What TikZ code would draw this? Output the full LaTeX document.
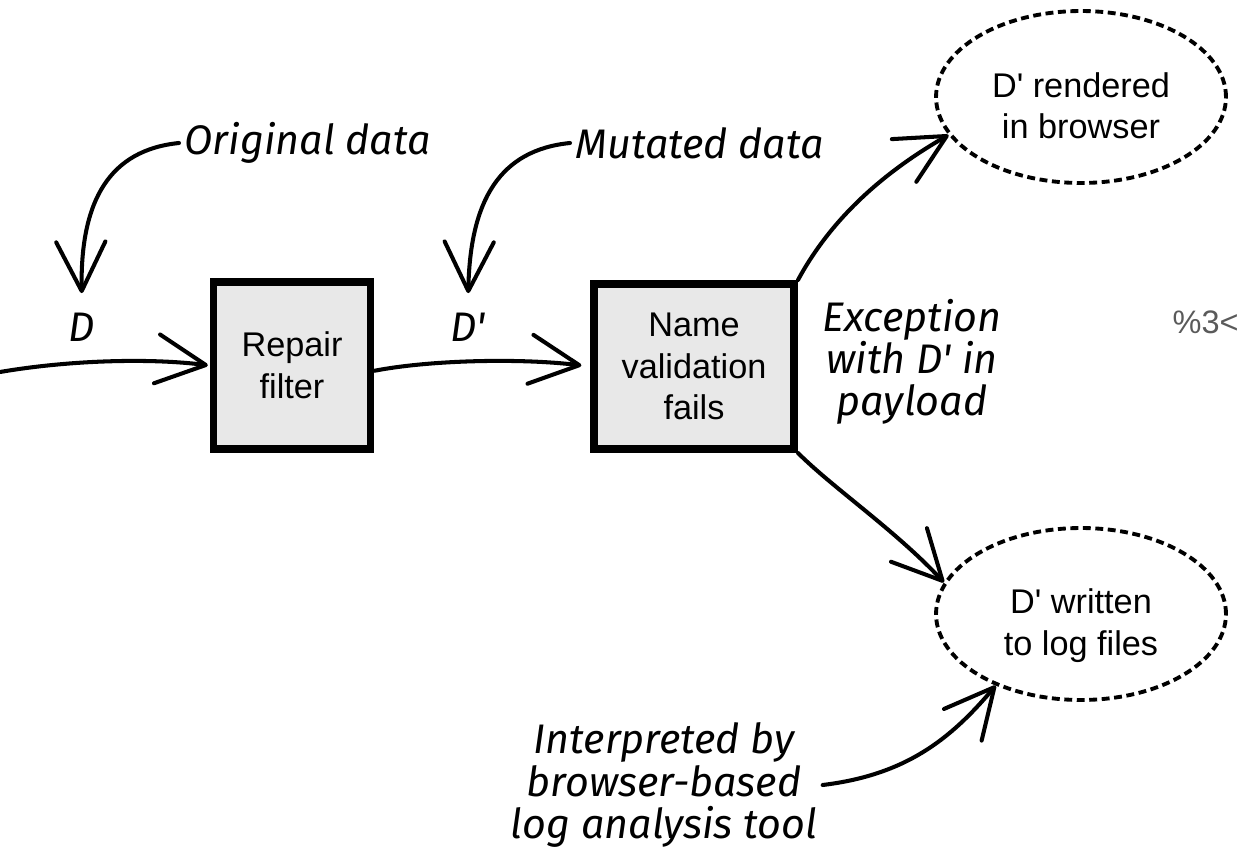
\documentclass[tikz,border=0pt]{standalone}
\usepackage{fontspec}
\setsansfont{Liberation Sans}
\newfontfamily\handfont{Fira Sans}
\usetikzlibrary{shapes.geometric,arrows.meta}
\definecolor{boxgray}{HTML}{E8E8E8}
\definecolor{taggray}{HTML}{5A5A5A}
\begin{document}
\begin{tikzpicture}[x=0.02cm,y=-0.02cm,
  labelfont/.style={font=\sffamily\fontsize{19.5}{23.8}\selectfont},
  box/.style={labelfont, draw, line width=4.5pt, fill=boxgray, align=center, inner sep=0pt},
  oval/.style={labelfont, ellipse, draw, line width=2.2pt, dash pattern=on 4.5pt off 2.6pt,
               minimum width=5.8cm, minimum height=3.44cm, inner sep=0pt, align=center},
  hand/.style={font=\handfont\itshape\fontsize{23.5}{24}\selectfont, inner sep=3pt, align=center},
  arr/.style={line width=2.3pt, line cap=round,
              -{Straight Barb[length=28pt,width=28pt,round]}}]
\useasboundingbox (0,0) rectangle (1240,858);

% processing steps
\node[box, minimum width=3.14cm, minimum height=3.34cm] (rep) at (292,365.5) {Repair\\filter};
\node[box, minimum width=4.0cm, minimum height=3.3cm] (val) at (694,366.5) {Name\\validation\\fails};

% outcomes (the strut lowers the two text lines a little inside the ellipse)
\node[oval] (e1) at (1081,97) {\rule{0pt}{24pt}D\textquotesingle{} rendered\\in browser};
\node[oval] (e2) at (1081,614) {\rule{0pt}{27pt}D\textquotesingle{} written\\to log files};

% annotations
\node[hand, anchor=west] (orig) at (179,143) {Original data};
\node[hand, anchor=west] (mut) at (570,143) {Mutated data};
\node[hand] (dl) at (82,327) {D};
\node[hand] (dpl) at (468,327) {D\textquotesingle};
\node[hand] (exc) at (912,362) {Exception\\with D\textquotesingle{} in\\payload};
\node[hand] (interp) at (664,785) {Interpreted by\\browser-based\\log analysis tool};
\node[font=\sffamily\fontsize{18.5}{22}\selectfont, text=taggray, anchor=east, inner sep=0pt] (pct) at (1239,322) {\%3<};

% data flow
\coordinate (src) at (0,372);
\draw[arr, shorten >=1pt] (src) .. controls (70,360) and (150,358) .. (rep.west);
\draw[arr, shorten >=5pt] ([yshift=-3pt]rep.east) .. controls (430,360) and (520,358) .. (val.west);
\draw[arr, shorten >=8pt] (orig.west) .. controls (110,150) and (80,200) .. (dl.north);
\draw[arr, shorten >=8pt] (mut.west) .. controls (500,150) and (470,200) .. (dpl.north);
\draw[arr] (val.north east) .. controls (825,230) and (870,180) .. (e1.196);
\draw[arr] (val.south east) .. controls (833,488) and (895,530) .. (e2.167);
\draw[arr] (interp.east) .. controls (905,775) and (950,740) .. (e2.220);
\end{tikzpicture}
\end{document}
